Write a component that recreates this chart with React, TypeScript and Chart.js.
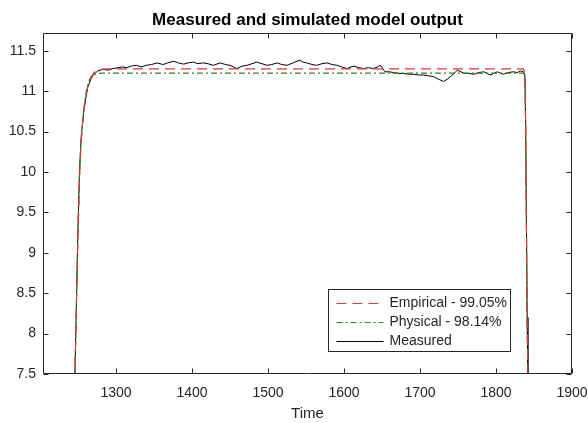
import React, { useEffect, useRef } from "react";
import { Chart, registerables } from "chart.js";

Chart.register(...registerables);

const TITLE = "Measured and simulated model output";
const X_LABEL = "Time";
const X_TICKS = [1300, 1400, 1500, 1600, 1700, 1800, 1900];
const Y_TICKS = [7.5, 8, 8.5, 9, 9.5, 10, 10.5, 11, 11.5];
const X_MIN = 1204;
const X_MAX = 1900;
const Y_MIN = 7.5;
const Y_MAX = 11.72;

const LEGEND_LABELS = ["Empirical - 99.05%", "Physical - 98.14%", "Measured"];

const MEASURED_T = [
  1240, 1246, 1248, 1250, 1252, 1254, 1257, 1260, 1263, 1267, 1270, 1276, 1283, 1290,
  1296, 1303, 1309, 1314, 1320, 1327, 1333, 1340, 1347, 1354, 1362, 1368, 1376, 1382,
  1389, 1395, 1402, 1408, 1415, 1421, 1428, 1437, 1444, 1450, 1459, 1466, 1472, 1479,
  1485, 1492, 1499, 1505, 1512, 1518, 1525, 1533, 1542, 1546, 1551, 1558, 1564, 1571,
  1578, 1584, 1591, 1597, 1604, 1609, 1613, 1620, 1626, 1632, 1639, 1644, 1648, 1651,
  1654, 1660, 1665, 1672, 1678, 1685, 1692, 1698, 1705, 1711, 1718, 1724, 1731, 1736,
  1740, 1745, 1749, 1754, 1758, 1764, 1771, 1777, 1784, 1788, 1793, 1797, 1802, 1806,
  1810, 1816, 1823, 1828, 1832, 1836, 1838, 1839, 1840, 1841, 1842, 1844,
];
const MEASURED_V = [
  6.8, 7.5, 8.4, 9.3, 10.0, 10.4, 10.7, 10.9, 11.05, 11.15, 11.2, 11.25, 11.27, 11.26,
  11.28, 11.29, 11.3, 11.29, 11.31, 11.32, 11.3, 11.32, 11.33, 11.35, 11.33, 11.35, 11.37, 11.35,
  11.335, 11.35, 11.36, 11.34, 11.35, 11.34, 11.32, 11.35, 11.33, 11.32, 11.28, 11.31, 11.32, 11.34,
  11.36, 11.34, 11.32, 11.33, 11.35, 11.33, 11.32, 11.35, 11.385, 11.36, 11.35, 11.33, 11.32, 11.34,
  11.35, 11.33, 11.32, 11.3, 11.28, 11.3, 11.31, 11.29, 11.28, 11.29, 11.28, 11.3, 11.32, 11.28,
  11.24, 11.24, 11.23, 11.22, 11.22, 11.21, 11.21, 11.2, 11.2, 11.19, 11.18, 11.15, 11.12, 11.15,
  11.18, 11.22, 11.26, 11.24, 11.22, 11.22, 11.21, 11.23, 11.24, 11.22, 11.2, 11.22, 11.24, 11.22,
  11.21, 11.23, 11.24, 11.23, 11.25, 11.24, 11.2, 10.6, 9.4, 8.2, 7.4, 6.5,
];

const EMPIRICAL_T = [
  1240, 1246, 1248, 1250, 1252, 1254, 1257, 1260, 1263, 1267, 1271, 1276, 1282, 1290,
  1836, 1838, 1839, 1840, 1841, 1842, 1844,
];
const EMPIRICAL_V = [
  6.8, 7.5, 8.35, 9.2, 9.9, 10.35, 10.7, 10.92, 11.07, 11.17, 11.23, 11.26, 11.272, 11.275,
  11.275, 11.22, 10.6, 9.4, 8.2, 7.4, 6.5,
];

const PHYSICAL_T = [
  1240, 1246, 1248, 1250, 1252, 1254, 1257, 1260, 1263, 1266, 1270, 1275, 1282,
  1836, 1838, 1839, 1840, 1841, 1842, 1844,
];
const PHYSICAL_V = [
  6.8, 7.5, 8.4, 9.3, 9.95, 10.4, 10.72, 10.95, 11.08, 11.16, 11.2, 11.218, 11.224,
  11.224, 11.18, 10.6, 9.4, 8.2, 7.4, 6.5,
];

const FONT = "'Liberation Sans', Arial, Helvetica, sans-serif";
const AXIS_COLOR = "#262626";
const RED = "rgb(222, 55, 55)";
const GREEN = "rgb(30, 140, 30)";
const BLACK = "#000000";

const toPoints = (t: number[], v: number[]) => t.map((x, i) => ({ x, y: v[i] }));

const framePlugin = {
  id: "matlabFrame",
  afterDraw(chart: any) {
    const { ctx, chartArea, scales } = chart;
    const { left, right, top, bottom } = chartArea;
    const L = Math.round(left) + 0.5;
    const R = Math.round(right) - 0.5;
    const T = Math.round(top) + 0.5;
    const B = Math.round(bottom) - 0.5;
    ctx.save();

    // title centred over the axes
    ctx.font = `bold 17px ${FONT}`;
    ctx.fillStyle = "#000000";
    ctx.textAlign = "center";
    ctx.textBaseline = "middle";
    ctx.fillText(TITLE, (left + right) / 2, 20);

    ctx.strokeStyle = AXIS_COLOR;
    ctx.lineWidth = 1;
    ctx.beginPath();
    ctx.rect(L, T, R - L, B - T);
    ctx.stroke();
    const tl = 5;
    ctx.beginPath();
    X_TICKS.forEach((v) => {
      const x = Math.round(scales.x.getPixelForValue(v)) + 0.5;
      ctx.moveTo(x, B);
      ctx.lineTo(x, B - tl);
      ctx.moveTo(x, T);
      ctx.lineTo(x, T + tl);
    });
    Y_TICKS.forEach((v) => {
      const y = Math.round(scales.y.getPixelForValue(v)) + 0.5;
      ctx.moveTo(L, y);
      ctx.lineTo(L + tl, y);
      ctx.moveTo(R, y);
      ctx.lineTo(R - tl, y);
    });
    ctx.stroke();

    // legend box
    const bx = Math.round(right - 62) + 0.5;
    const bw = 182;
    const bxl = bx - bw;
    const bh = 62;
    const by = Math.round(bottom - 23) + 0.5 - bh;
    ctx.fillStyle = "#ffffff";
    ctx.fillRect(bxl, by, bw, bh);
    ctx.strokeStyle = AXIS_COLOR;
    ctx.strokeRect(bxl, by, bw, bh);
    const styles = [
      { color: RED, dash: [10, 6] },
      { color: GREEN, dash: [6, 3, 2, 3] },
      { color: BLACK, dash: [] as number[] },
    ];
    ctx.font = `14px ${FONT}`;
    ctx.textBaseline = "middle";
    ctx.textAlign = "left";
    LEGEND_LABELS.forEach((lab, i) => {
      const cy = by + 13 + i * 19.2;
      const s = styles[i];
      ctx.beginPath();
      ctx.setLineDash(s.dash);
      ctx.strokeStyle = s.color;
      ctx.moveTo(bxl + 8, Math.round(cy) + 0.5);
      ctx.lineTo(bxl + 55, Math.round(cy) + 0.5);
      ctx.stroke();
      ctx.setLineDash([]);
      ctx.fillStyle = AXIS_COLOR;
      ctx.fillText(lab, bxl + 61, cy + 0.5);
    });
    ctx.restore();
  },
};

export default function App() {
  const canvasRef = useRef<HTMLCanvasElement | null>(null);

  useEffect(() => {
    if (!canvasRef.current) return;
    const tickFont = { family: FONT, size: 14 };
    const chart = new Chart(canvasRef.current, {
      type: "line",
      data: {
        datasets: [
          {
            label: LEGEND_LABELS[0],
            data: toPoints(EMPIRICAL_T, EMPIRICAL_V),
            borderColor: RED,
            borderWidth: 1.2,
            borderDash: [10, 6],
            pointRadius: 0,
            tension: 0,
            fill: false,
          },
          {
            label: LEGEND_LABELS[1],
            data: toPoints(PHYSICAL_T, PHYSICAL_V),
            borderColor: GREEN,
            borderWidth: 1.2,
            borderDash: [6, 3, 2, 3],
            pointRadius: 0,
            tension: 0,
            fill: false,
          },
          {
            label: LEGEND_LABELS[2],
            data: toPoints(MEASURED_T, MEASURED_V),
            borderColor: BLACK,
            borderWidth: 1,
            pointRadius: 0,
            tension: 0,
            fill: false,
          },
        ],
      },
      options: {
        animation: false,
        responsive: false,
        maintainAspectRatio: false,
        layout: { padding: { left: 0, right: 16, top: 33, bottom: 0 } },
        plugins: {
          legend: { display: false },
          tooltip: { enabled: false },
          title: { display: false },
        },
        scales: {
          x: {
            type: "linear",
            min: X_MIN,
            max: X_MAX,
            afterBuildTicks: (s: any) => {
              s.ticks = X_TICKS.map((value) => ({ value }));
            },
            afterFit: (s: any) => {
              s.height = 49;
              s.paddingLeft = 0;
              s.paddingRight = 0;
            },
            grid: { display: false, drawTicks: false },
            border: { display: false },
            ticks: {
              font: tickFont,
              color: AXIS_COLOR,
              padding: 11,
              maxRotation: 0,
              autoSkip: false,
              callback: (v: any) => String(v),
            },
            title: {
              display: true,
              text: X_LABEL,
              color: AXIS_COLOR,
              font: { family: FONT, size: 15 },
              padding: { top: 0, bottom: 0 },
            },
          },
          y: {
            type: "linear",
            min: Y_MIN,
            max: Y_MAX,
            afterBuildTicks: (s: any) => {
              s.ticks = Y_TICKS.map((value) => ({ value }));
            },
            afterFit: (s: any) => {
              s.width = 43;
              s.paddingTop = 0;
              s.paddingBottom = 0;
            },
            grid: { display: false, drawTicks: false },
            border: { display: false },
            ticks: {
              font: tickFont,
              color: AXIS_COLOR,
              padding: 7,
              autoSkip: false,
              callback: (v: any) => String(v),
            },
          },
        },
      },
      plugins: [framePlugin],
    } as any);
    return () => chart.destroy();
  }, []);

  return (
    <div
      style={{
        position: "fixed",
        left: 0,
        top: 0,
        width: 588,
        height: 423,
        background: "#ffffff",
      }}
    >
      <canvas ref={canvasRef} width={588} height={423} style={{ width: 588, height: 423, display: "block" }} />
    </div>
  );
}
